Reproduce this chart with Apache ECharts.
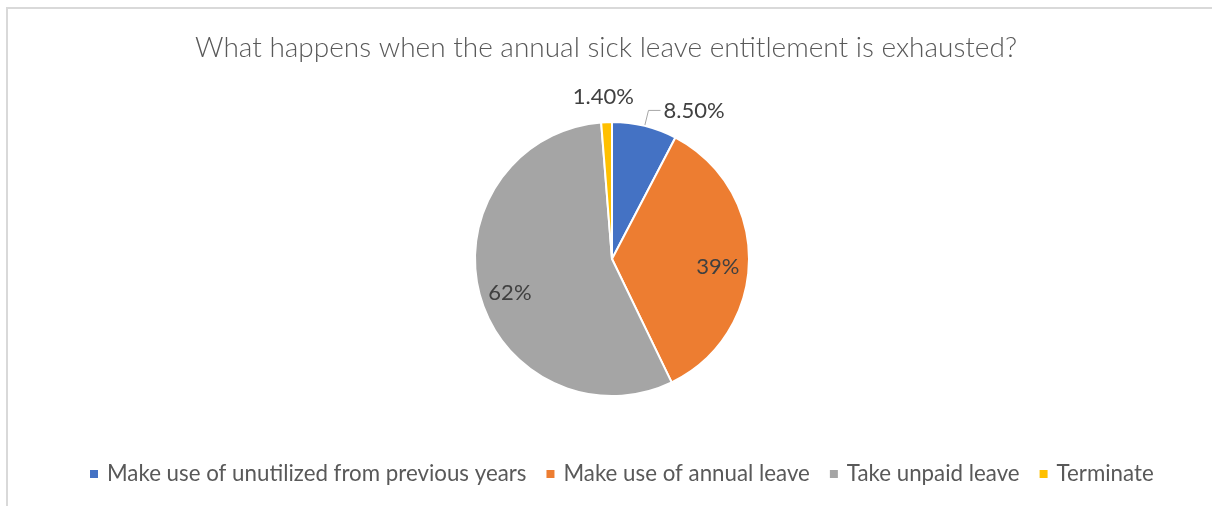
<!DOCTYPE html>
<html>
<head>
<meta charset="utf-8">
<script src="https://cdn.jsdelivr.net/npm/echarts@6/dist/echarts.min.js"></script>
<style>
  html, body { margin: 0; padding: 0; background: #fff; }
  #wrap { position: relative; width: 1212px; height: 506px; overflow: hidden; }
  #chart { position: absolute; left: 0; top: 0; width: 1212px; height: 506px; }
  #frame {
    position: absolute; left: 6px; top: 7px; right: -10px; bottom: -10px;
    border-top: 2px solid #d9d9d9; border-left: 2px solid #d9d9d9;
    pointer-events: none;
  }
</style>
</head>
<body>
<div id="wrap">
  <div id="chart"></div>
  <div id="frame"></div>
</div>
<script>
// Survey answers and the share (in %) of respondents giving each one
const titleText = 'What happens when the annual sick leave entitlement is exhausted?';
const categories = [
  'Make use of unutilized from previous years',
  'Make use of annual leave',
  'Take unpaid leave',
  'Terminate'
];
const values = [8.5, 39, 62, 1.4];
const colors = ['#4472C4', '#ED7D31', '#A5A5A5', '#FFC000'];

const total = values.reduce((a, b) => a + b, 0);
const fmt = v => (v % 1 ? v.toFixed(2) : String(v)) + '%';
const isSmall = v => v / total < 0.1;

const FONT = 'Lato, "Liberation Sans", sans-serif';
const CENTER = [612, 259];
const R = 137;

const chart = echarts.init(document.getElementById('chart'), null, { renderer: 'canvas' });

// main pie: slices + outside labels for the thin slices
const mainData = categories.map((name, i) => ({
  name,
  value: values[i],
  itemStyle: { color: colors[i] },
  label: { show: isSmall(values[i]) },
  labelLine: { show: isSmall(values[i]) && i === 0 }
}));

// transparent ring used only to place the big-slice labels further out than mid-radius
const innerLabelData = categories.map((name, i) => ({
  name,
  value: values[i],
  label: { show: !isSmall(values[i]) }
}));

chart.setOption({
  animation: false,
  title: {
    text: titleText,
    left: 'center',
    top: 29,
    textStyle: { fontFamily: FONT, fontSize: 28, fontWeight: 300, color: '#595959' }
  },
  legend: {
    data: categories,
    bottom: 16,
    left: 83,
    icon: 'rect',
    itemWidth: 10,
    itemHeight: 10,
    itemGap: 18,
    textStyle: { fontFamily: FONT, fontSize: 22.3, color: '#595959', padding: [0, 0, 0, 3] }
  },
  series: [
    {
      type: 'pie',
      center: CENTER,
      radius: R,
      startAngle: 90,
      clockwise: true,
      avoidLabelOverlap: false,
      itemStyle: { borderColor: '#fff', borderWidth: 2 },
      label: {
        position: 'outside',
        formatter: p => fmt(p.value),
        fontFamily: FONT,
        fontSize: 22,
        color: '#404040',
        distanceToLabelLine: 3
      },
      labelLine: {
        length: 16,
        length2: 12,
        lineStyle: { color: '#a6a6a6', width: 1 }
      },
      labelLayout: p => (p.dataIndex === 3 ? { dx: 43, dy: -9 } : {}),
      emphasis: { disabled: true },
      data: mainData
    },
    {
      type: 'pie',
      center: CENTER,
      radius: [R * 0.5, R],
      startAngle: 90,
      clockwise: true,
      silent: true,
      legendHoverLink: false,
      itemStyle: { color: 'rgba(0,0,0,0)' },
      label: {
        position: 'inside',
        formatter: p => fmt(p.value),
        fontFamily: FONT,
        fontSize: 22,
        color: '#404040'
      },
      labelLine: { show: false },
      labelLayout: { dy: 6 },
      emphasis: { disabled: true },
      tooltip: { show: false },
      data: innerLabelData
    }
  ]
});
</script>
</body>
</html>
